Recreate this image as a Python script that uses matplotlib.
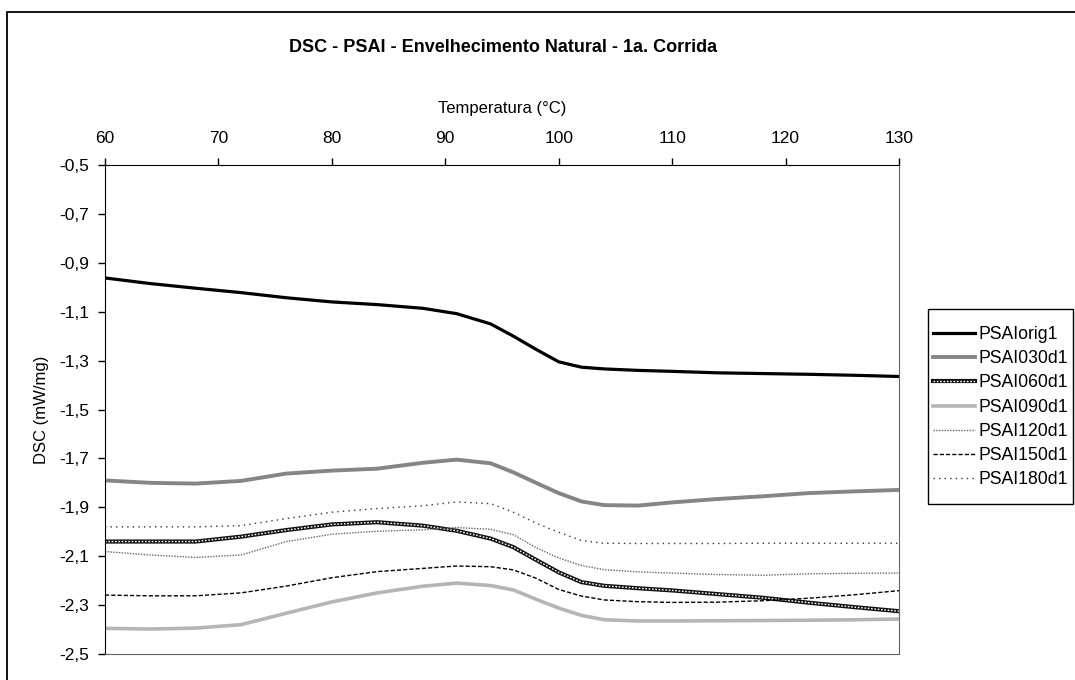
import matplotlib.pyplot as plt
from matplotlib.patches import Rectangle

plt.rcParams['font.family'] = ['Liberation Sans', 'DejaVu Sans']

# Temperatura (°C) and DSC signal (mW/mg) for each sample
temperatura = [60, 64, 68, 72, 76, 80, 84, 88, 91, 94, 96, 98, 100, 102, 104, 107, 110, 114, 118, 122, 126, 130]

psa_orig1 = [-0.962, -0.985, -1.004, -1.022, -1.043, -1.060, -1.071, -1.086, -1.108, -1.150, -1.200,
             -1.254, -1.305, -1.327, -1.334, -1.340, -1.344, -1.350, -1.353, -1.356, -1.360, -1.365]
psai_030d1 = [-1.790, -1.800, -1.803, -1.792, -1.762, -1.750, -1.742, -1.718, -1.705, -1.720, -1.757,
              -1.800, -1.842, -1.876, -1.891, -1.893, -1.880, -1.866, -1.855, -1.842, -1.835, -1.829]
psai_060d1 = [-2.040, -2.040, -2.040, -2.020, -1.993, -1.970, -1.961, -1.975, -1.996, -2.028, -2.063,
              -2.115, -2.166, -2.206, -2.221, -2.231, -2.240, -2.255, -2.270, -2.290, -2.308, -2.325]
psai_090d1 = [-2.395, -2.398, -2.394, -2.380, -2.333, -2.287, -2.250, -2.223, -2.210, -2.220, -2.238,
              -2.276, -2.312, -2.342, -2.360, -2.365, -2.365, -2.364, -2.363, -2.362, -2.360, -2.357]
psai_120d1 = [-2.081, -2.095, -2.105, -2.095, -2.040, -2.010, -1.998, -1.992, -1.983, -1.990, -2.012,
              -2.065, -2.107, -2.138, -2.155, -2.164, -2.169, -2.175, -2.178, -2.172, -2.170, -2.169]
psai_150d1 = [-2.259, -2.262, -2.262, -2.250, -2.222, -2.188, -2.163, -2.150, -2.140, -2.143, -2.156,
              -2.190, -2.236, -2.263, -2.279, -2.286, -2.289, -2.288, -2.282, -2.272, -2.258, -2.241]
psai_180d1 = [-1.980, -1.980, -1.980, -1.975, -1.946, -1.920, -1.905, -1.894, -1.878, -1.885, -1.920,
              -1.965, -2.002, -2.036, -2.047, -2.048, -2.048, -2.048, -2.047, -2.047, -2.047, -2.047]

x_ticks = [60, 70, 80, 90, 100, 110, 120, 130]
y_ticks = [-0.5, -0.7, -0.9, -1.1, -1.3, -1.5, -1.7, -1.9, -2.1, -2.3, -2.5]

fig = plt.figure(figsize=(10.75, 6.8), dpi=100)
ax = fig.add_axes([105 / 1075, 1 - 654 / 680, 794 / 1075, 489 / 680])

# outer chart frame
fig.add_artist(Rectangle((7 / 1075, -0.1), 1.2, 1.1 - 12 / 680, transform=fig.transFigure,
                         fill=False, edgecolor='black', linewidth=1.3, clip_on=False))

h_orig, = ax.plot(temperatura, psa_orig1, color='black', linewidth=2.3)
h_030, = ax.plot(temperatura, psai_030d1, color='#858585', linewidth=2.8)
h_060a, = ax.plot(temperatura, psai_060d1, color='#111111', linewidth=3.0)
h_060b, = ax.plot(temperatura, psai_060d1, color='white', linewidth=1.0, linestyle=(0, (1.2, 1.2)))
h_090, = ax.plot(temperatura, psai_090d1, color='#b5b5b5', linewidth=2.6)
h_120, = ax.plot(temperatura, psai_120d1, color='#666666', linewidth=1.0, linestyle=(0, (1, 1)))
h_150, = ax.plot(temperatura, psai_150d1, color='black', linewidth=1.0, linestyle=(0, (3, 1.5)))
h_180, = ax.plot(temperatura, psai_180d1, color='#333333', linewidth=1.0, linestyle=(0, (1, 3)))

ax.set_xlim(60, 130)
ax.set_ylim(-2.5, -0.5)

ax.xaxis.tick_top()
ax.xaxis.set_label_position('top')
ax.set_xticks(x_ticks)
ax.set_yticks(y_ticks)
ax.set_yticklabels([f"{v:.1f}".replace('.', ',') for v in y_ticks])
ax.tick_params(axis='both', direction='out', length=5, width=1, labelsize=12.5)
ax.tick_params(axis='y', pad=6.5)
ax.tick_params(axis='x', pad=9)

ax.spines['top'].set_color('black')
ax.spines['left'].set_color('black')
ax.spines['right'].set_color('#666666')
ax.spines['bottom'].set_color('#666666')

ax.set_xlabel("Temperatura (°C)", fontsize=12, labelpad=13)
ax.set_ylabel("DSC (mW/mg)", fontsize=12, labelpad=7)
fig.text(503 / 1075, 1 - 48 / 680, "DSC - PSAI - Envelhecimento Natural - 1a. Corrida",
         ha='center', va='center', fontsize=13, fontweight='bold')

# legend box drawn separately so its padding can be set freely
fig.add_artist(Rectangle((928 / 1075, 1 - 504 / 680), 145 / 1075, 195 / 680, transform=fig.transFigure,
                         fill=False, edgecolor='black', linewidth=1.0))
handles = [h_orig, h_030, (h_060a, h_060b), h_090, h_120, h_150, h_180]
labels = ["PSAIorig1", "PSAI030d1", "PSAI060d1", "PSAI090d1", "PSAI120d1", "PSAI150d1", "PSAI180d1"]
fig.legend(handles, labels, loc='upper left', bbox_to_anchor=(933 / 1075, 1 - 326 / 680),
           fontsize=12.7, frameon=False, handlelength=2.4, handletextpad=0.17,
           labelspacing=0.41, borderpad=0, borderaxespad=0)

fig.savefig('out.png', dpi=100)
